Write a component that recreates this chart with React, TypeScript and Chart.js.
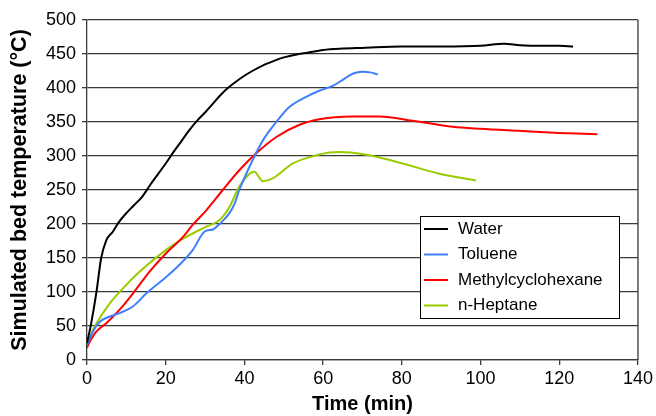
import React, { useEffect, useRef } from "react";
import { Chart, registerables } from "chart.js";

Chart.register(...registerables);

const waterTime = [0, 1, 2.4, 3.6, 4.9, 6.6, 8, 10, 12, 14, 16, 18, 20, 22, 24, 26, 28, 30, 32, 34, 36, 38, 40, 42, 45, 48, 50, 53, 56, 60, 65, 70, 80, 90, 100, 106, 110, 115, 120, 123.5];
const waterTemp = [25, 52, 100, 150, 176, 189, 202, 216, 228, 240, 257, 273, 289, 306, 322, 338, 352, 364, 377, 390, 401, 410, 418, 425, 434, 441, 445, 449, 452, 456, 458, 459, 461, 461, 462, 465, 463, 462, 462, 461];

const tolueneTime = [0, 1.5, 3.2, 5.8, 8.3, 11.7, 15.1, 20.1, 23.5, 26.9, 29.9, 32, 33.7, 36.2, 37.5, 38.7, 42.1, 44.7, 48.1, 51.4, 55.7, 59, 62.4, 65, 67.5, 70, 72, 73.9];
const tolueneTemp = [22, 42, 56, 64, 69, 79, 98, 122, 140, 162, 189, 192, 200, 216, 230, 250, 294, 323, 350, 372, 387, 396, 403, 412, 421, 424, 423, 420];

const mchTime = [0, 1, 2.4, 4.9, 8.3, 11.7, 15.9, 20.1, 24.4, 26.9, 30.3, 34.5, 38.7, 43, 48.1, 54, 59, 63, 67.5, 74.3, 82.7, 92.9, 100, 109.8, 120, 129.7];
const mchTemp = [18, 30, 42, 54, 74, 98, 130, 157, 181, 199, 220, 250, 279, 304, 328, 346, 354, 357, 358, 358, 352, 343, 340, 337, 334, 332];

const heptaneTime = [0, 1, 2.4, 5.75, 9.1, 13.4, 20.1, 25.2, 30.3, 33.7, 36.2, 38.7, 42.5, 44.7, 47.2, 52.3, 58.3, 61.6, 64.1, 67, 71.7, 80.2, 89.5, 98.8];
const heptaneTemp = [22, 38, 54, 83, 105, 130, 162, 181, 196, 206, 225, 255, 277, 263, 267, 289, 301, 305, 306, 305, 301, 289, 274, 264];

const seriesNames = ["Water", "Toluene", "Methylcyclohexane", "n-Heptane"];
const seriesColors = ["#000000", "#3f7fff", "#ff0000", "#99cc00"];

const xTicks = [0, 20, 40, 60, 80, 100, 120, 140];
const yTicks = [0, 50, 100, 150, 200, 250, 300, 350, 400, 450, 500];

const toPoints = (xs: number[], ys: number[]) => xs.map((x, i) => ({ x, y: ys[i] }));

const FONT = "'Liberation Sans', Arial, sans-serif";

const frameAndLegend = {
  id: "frameAndLegend",
  afterDraw(chart: any) {
    const ctx = chart.ctx;
    const { top, bottom, right } = chart.chartArea;
    ctx.save();
    // right border
    ctx.strokeStyle = "#3a3a3a";
    ctx.lineWidth = 1.3;
    ctx.beginPath();
    ctx.moveTo(right, top);
    ctx.lineTo(right, bottom);
    ctx.stroke();

    // legend box
    const lx = 420, ly = 216, lw = 199, lh = 102;
    ctx.fillStyle = "#ffffff";
    ctx.fillRect(lx, ly, lw, lh);
    ctx.strokeStyle = "#000000";
    ctx.lineWidth = 1;
    ctx.strokeRect(lx + 0.5, ly + 0.5, lw, lh);
    ctx.font = `17px ${FONT}`;
    ctx.textBaseline = "middle";
    ctx.textAlign = "left";
    chart.data.datasets.forEach((ds: any, i: number) => {
      const y = ly + 13 + i * 25.5;
      ctx.strokeStyle = ds.borderColor;
      ctx.lineWidth = 2;
      ctx.beginPath();
      ctx.moveTo(lx + 4, y);
      ctx.lineTo(lx + 28, y);
      ctx.stroke();
      ctx.fillStyle = "#000000";
      ctx.fillText(ds.label, lx + 38, y);
    });
    ctx.restore();
  },
};

export default function App() {
  const canvasRef = useRef<HTMLCanvasElement>(null);

  useEffect(() => {
    const canvas = canvasRef.current;
    if (!canvas) return;
    const seriesData = [
      toPoints(waterTime, waterTemp),
      toPoints(tolueneTime, tolueneTemp),
      toPoints(mchTime, mchTemp),
      toPoints(heptaneTime, heptaneTemp),
    ];
    const chart = new Chart(canvas, {
      type: "line",
      data: {
        datasets: seriesData.map((d, i) => ({
          label: seriesNames[i],
          data: d,
          borderColor: seriesColors[i],
          backgroundColor: seriesColors[i],
          borderWidth: 2,
          pointRadius: 0,
          fill: false,
          cubicInterpolationMode: "monotone" as const,
        })),
      },
      options: {
        responsive: false,
        animation: false,
        layout: { padding: { top: 20, right: 17, bottom: 0, left: 0 } },
        plugins: { legend: { display: false }, tooltip: { enabled: false } },
        scales: {
          x: {
            type: "linear",
            min: 0,
            max: 140,
            afterBuildTicks: (s: any) => {
              s.ticks = xTicks.map((v) => ({ value: v }));
            },
            afterFit: (s: any) => {
              s.height = 56;
            },
            grid: { drawOnChartArea: false, drawTicks: true, tickLength: 5, color: "#3a3a3a", lineWidth: 1.3 },
            border: { color: "#3a3a3a", width: 1.3 },
            ticks: { color: "#000", font: { family: FONT, size: 18 }, padding: 3, maxRotation: 0 },
            title: {
              display: true,
              text: "Time (min)",
              color: "#000",
              font: { family: FONT, size: 20, weight: "bold" },
              padding: { top: 0, bottom: 0 },
            },
          },
          y: {
            type: "linear",
            min: 0,
            max: 500,
            afterBuildTicks: (s: any) => {
              s.ticks = yTicks.map((v) => ({ value: v }));
            },
            afterFit: (s: any) => {
              s.width = 87;
            },
            grid: { drawTicks: true, tickLength: 5, color: "#3a3a3a", lineWidth: 1.3 },
            border: { color: "#3a3a3a", width: 1.3 },
            ticks: { color: "#000", font: { family: FONT, size: 18 }, padding: 6 },
            title: {
              display: true,
              text: "Simulated bed temperature (°C)",
              color: "#000",
              font: { family: FONT, size: 21.5, weight: "bold" },
              padding: { top: 7, bottom: 0 },
            },
          },
        },
      },
      plugins: [frameAndLegend],
    });
    return () => chart.destroy();
  }, []);

  return (
    <div style={{ position: "fixed", left: 0, top: 0, width: 656, height: 416, background: "#fff" }}>
      <canvas ref={canvasRef} width={656} height={416} style={{ width: 656, height: 416, display: "block" }} />
    </div>
  );
}
